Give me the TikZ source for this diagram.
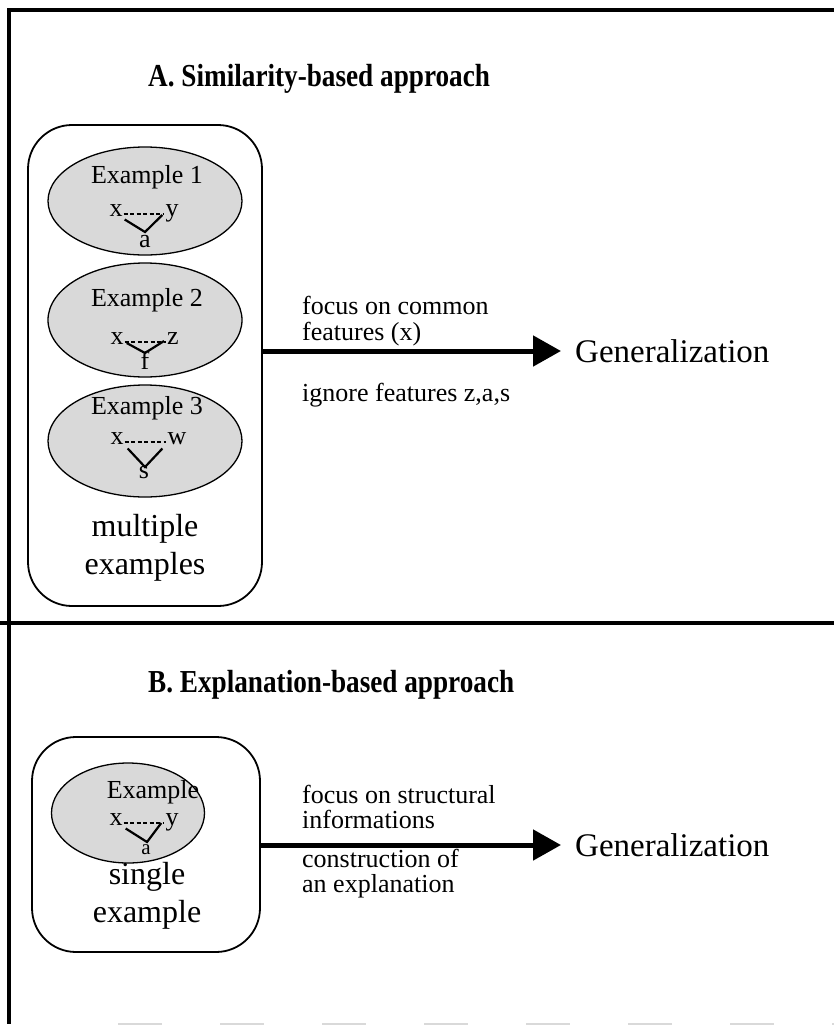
\documentclass[tikz,border=0pt]{standalone}
\usepackage{fontspec}
\setmainfont{Liberation Serif}
\usetikzlibrary{shapes.geometric,arrows.meta,calc}

\begin{document}
\begin{tikzpicture}[x=1pt,y=-1pt,
  frame/.style={line width=4.5pt, line join=miter},
  group/.style={draw, line width=1.8pt, rounded corners=44pt, inner sep=0pt},
  case/.style={ellipse, draw, line width=1.3pt, fill=black!15, inner sep=0pt},
  exlabel/.style={font=\fontsize{26}{29}\selectfont, inner sep=0pt},
  letter/.style={font=\fontsize{26}{29}\selectfont, inner sep=1pt, text height=1ex, text depth=0pt},
  grouplabel/.style={font=\fontsize{32}{38}\selectfont, align=center, inner sep=0pt},
  note/.style={font=\fontsize{26}{28}\selectfont, anchor=base west, inner sep=0pt},
  heading/.style={font=\fontsize{32}{36}\selectfont\bfseries, anchor=west, inner sep=0pt},
  result/.style={font=\fontsize{33}{38}\selectfont, anchor=west, inner sep=0pt},
  flow/.style={line width=5pt, -{Triangle[length=28pt,width=30pt]}, shorten >=14pt},
  link/.style={line width=2.2pt},
  dots/.style={line width=1.5pt, dash pattern=on 4pt off 2.5pt}
]
\useasboundingbox (0,0) rectangle (834,1026);

% page frame
\coordinate (tl) at (9,10);
\coordinate (tr) at (834,10);
\coordinate (bl) at (9,1024);
\coordinate (br) at (834,1024);
\coordinate (bs) at (118,1024);
\coordinate (ml) at (0,623);
\coordinate (mr) at (834,623);
\draw[frame] (tr) -- (tl) -- (bl);
\draw[frame] (ml) -- (mr);
\draw[gray!30, line width=2pt, dash pattern=on 44pt off 58pt] (bs) -- (br);

% ---------- A. similarity-based ----------
\node[heading] (headA) at (148,79) {\scalebox{0.85}[1]{A. Similarity-based approach}};
\node[group, minimum width=234pt, minimum height=481pt] (boxA) at (145,365.5) {};

% example 1
\node[case, minimum width=194pt, minimum height=108pt] (e1) at (145,201) {};
\node[exlabel] (t1) at (147,177) {Example 1};
\node[letter] (x1) at (116,214) {x};
\node[letter] (y1) at (172,214) {y};
\coordinate (v1) at (145,232);
\node[letter] (f1) at (145,245) {a};
\draw[dots] (x1.east) -- (y1.west);
\draw[link] ($(x1.south east)+(1,2)$) -- (v1) -- ($(y1.west)+(-2,1)$);

% example 2
\node[case, minimum width=194pt, minimum height=114pt] (e2) at (145,320) {};
\node[exlabel] (t2) at (147,300) {Example 2};
\node[letter] (x2) at (117,342) {x};
\node[letter] (y2) at (173,342) {z};
\coordinate (v2) at (145,353);
\node[letter] (f2) at (145,367) {f};
\draw[dots] (x2.east) -- (y2.west);
\draw[link] ($(x2.east)+(2,1)$) -- (v2) -- ($(y2.west)+(-2,-1)$);

% example 3
\node[case, minimum width=194pt, minimum height=112pt] (e3) at (145,441) {};
\node[exlabel] (t3) at (147,408) {Example 3};
\node[letter] (x3) at (117,442) {x};
\node[letter] (y3) at (177,442) {w};
\coordinate (v3) at (145,467);
\node[letter] (f3) at (144,476) {s};
\draw[dots] (x3.east) -- (y3.west);
\draw[link] ($(x3.south east)+(3,3)$) -- (v3) -- ($(y3.south west)+(-4,3)$);

\node[grouplabel] (multi) at (145,548) {multiple\\examples};

% route to generalization
\node[result] (genA) at (575,351) {Generalization};
\draw[flow] (boxA.east |- genA.west) -- (genA.west);
\node[note] (nA1) at (302,314) {focus on common};
\node[note] (nA2) at (302,340) {features (x)};
\node[note] (nA3) at (302,401) {ignore features z,a,s};

% ---------- B. explanation-based ----------
\node[heading] (headB) at (148,685) {\scalebox{0.85}[1]{B. Explanation-based approach}};
\node[group, minimum width=228pt, minimum height=215pt] (boxB) at (146,844.5) {};

\node[case, minimum width=153pt, minimum height=100pt] (eb) at (128,813) {};
\node[exlabel] (tb) at (153,792) {Example};
\node[letter] (xb) at (116,823) {x};
\node[letter] (yb) at (172,823) {y};
\coordinate (vb) at (147,842);
\node[letter, font=\fontsize{21}{24}\selectfont] (fb) at (146,852) {a};
\draw[dots] (xb.east) -- (yb.west);
\draw[link] ($(xb.south east)+(2,2)$) -- (vb) -- ($(yb.west)+(-3,0)$);

\node[grouplabel] (single) at (147,896) {single\\example};

\node[result] (genB) at (575,845) {Generalization};
\draw[flow] (boxB.east |- genB.west) -- (genB.west);
\node[note] (nB1) at (302,803) {focus on structural};
\node[note] (nB2) at (302,828) {informations};
\node[note] (nB3) at (302,867) {construction of};
\node[note] (nB4) at (302,892) {an explanation};

\end{tikzpicture}
\end{document}
